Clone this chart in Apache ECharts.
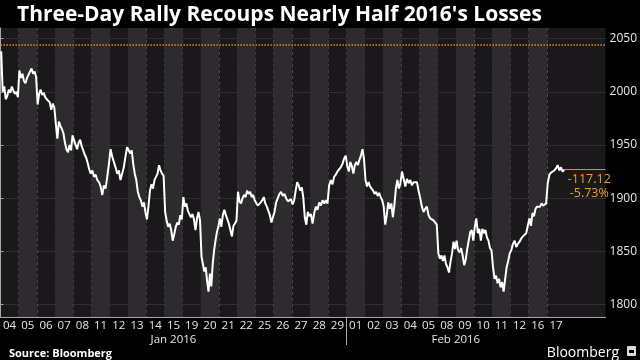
<!DOCTYPE html>
<html><head><meta charset="utf-8">
<script src="https://cdn.jsdelivr.net/npm/echarts@6/dist/echarts.min.js"></script>
<style>html,body{margin:0;padding:0;background:#000;}#c{width:640px;height:360px;}</style>
</head><body><div id="c"></div>
<script>
const chartTitle = "Three-Day Rally Recoups Nearly Half 2016's Losses";
const sourceText = "Source: Bloomberg";
const brandText = "Bloomberg";
const dayLabels = ['04','05','06','07','08','11','12','13','14','15','19','20','21','22','25','26','27','28','29',
                   '01','02','03','04','05','08','09','10','11','12','16','17'];
const monthLabels = ['Jan 2016', 'Feb 2016'];
const monthDayCounts = [19, 12];
const yTickValues = [1800, 1850, 1900, 1950, 2000, 2050];
const prevClose = 2043.94;

// intraday S&P 500 levels, one array per trading day
const d00 = [2038, 2000, 2005, 1993, 1996, 2002, 1999, 2005, 2001, 1998, 2000, 1995];
const d01 = [2020, 2013, 2017, 2010, 2008, 2013, 2016, 2019, 2022, 2017, 2019, 2014];
const d02 = [1988, 1998, 2002, 1997, 1999, 1995, 1993, 1992, 1990, 1983, 1989, 1985];
const d03 = [1970, 1956, 1972, 1968, 1965, 1961, 1952, 1946, 1943, 1950, 1945, 1959];
const d04 = [1958, 1950, 1946, 1952, 1955, 1949, 1945, 1941, 1938, 1933, 1927, 1923];
const d05 = [1926, 1920, 1922, 1917, 1915, 1911, 1903, 1912, 1909, 1920, 1932];
const d06 = [1946, 1939, 1934, 1929, 1923, 1926, 1917, 1923, 1929, 1939, 1948];
const d07 = [1949, 1942, 1945, 1932, 1923, 1917, 1906, 1901, 1898, 1892, 1896, 1887];
const d08 = [1880, 1892, 1907, 1913, 1909, 1917, 1920, 1923, 1931, 1926, 1923, 1921];
const d09 = [1887, 1879, 1873, 1876, 1870, 1860, 1866, 1873, 1877, 1875, 1884, 1880];
const d10 = [1901, 1892, 1895, 1888, 1885, 1882, 1885, 1880, 1870, 1881, 1887, 1879];
const d11 = [1845, 1838, 1831, 1835, 1822, 1812, 1829, 1817, 1838, 1851, 1860, 1868, 1873];
const d12 = [1881, 1873, 1884, 1889, 1884, 1885, 1876, 1870, 1864, 1874, 1876, 1879];
const d13 = [1906, 1897, 1895, 1900, 1903, 1901, 1907, 1904, 1906, 1901, 1903, 1898];
const d14 = [1898, 1893, 1892, 1896, 1898, 1901, 1895, 1892, 1893, 1884, 1877, 1882];
const d15 = [1887, 1896, 1900, 1904, 1906, 1902, 1904, 1900, 1897, 1896, 1899];
const d16 = [1894, 1898, 1907, 1915, 1912, 1907, 1910, 1901, 1882, 1875, 1887, 1883];
const d17 = [1885, 1876, 1886, 1892, 1889, 1896, 1893, 1898, 1895, 1898, 1895];
const d18 = [1912, 1917, 1913, 1920, 1922, 1925, 1927, 1929, 1932, 1937, 1940];
const d19 = [1930, 1925, 1934, 1930, 1923, 1931, 1934, 1931, 1936, 1940, 1946, 1937];
const d20 = [1917, 1911, 1915, 1911, 1909, 1907, 1904, 1906, 1902, 1905, 1901, 1898];
const d21 = [1892, 1875, 1884, 1896, 1890, 1895, 1882, 1893, 1909, 1917, 1909, 1914];
const d22 = [1925, 1918, 1911, 1918, 1914, 1917, 1912, 1915, 1914, 1915, 1907];
const d23 = [1900, 1892, 1887, 1890, 1892, 1884, 1881, 1882, 1879, 1878, 1875];
const d24 = [1848, 1843, 1846, 1841, 1846, 1838, 1835, 1830, 1840, 1848, 1859, 1852];
const d25 = [1860, 1851, 1849, 1853, 1846, 1837, 1842, 1852, 1860, 1868, 1870, 1860];
const d26 = [1873, 1881, 1867, 1871, 1860, 1871, 1867, 1870, 1863, 1860, 1853, 1851];
const d27 = [1835, 1824, 1827, 1820, 1824, 1816, 1821, 1812, 1824, 1835, 1841, 1848];
const d28 = [1851, 1857, 1860, 1854, 1857, 1859, 1862, 1864, 1865, 1867, 1868];
const d29 = [1881, 1874, 1886, 1883, 1890, 1892, 1893, 1892, 1895, 1893, 1892, 1895];
const d30 = [1914, 1922, 1924, 1923, 1926, 1928, 1931, 1926, 1929, 1925, 1926.82];
const dayValues = [d00,d01,d02,d03,d04,d05,d06,d07,d08,d09,d10,d11,d12,d13,d14,d15,d16,d17,d18,d19,d20,
                   d21,d22,d23,d24,d25,d26,d27,d28,d29,d30];

const X_MAX = 33.22;
const Y_MIN = 1788.2, Y_MAX = 2060;
const ORANGE = '#d9911f';

const lineData = [];
dayValues.forEach((arr, d) => {
  arr.forEach((v, j) => lineData.push([d + (j + 0.5) / arr.length, v]));
});
const last = lineData[lineData.length - 1];
const chg = (last[1] - prevClose).toFixed(2);
const pct = ((last[1] - prevClose) / prevClose * 100).toFixed(2) + '%';

const bandAreas = [];
for (let d = 1; d < dayLabels.length; d += 2) bandAreas.push([{xAxis: d}, {xAxis: d + 1}]);
const centers = dayLabels.map((_, i) => i + 0.5);
const boundaries = dayLabels.slice(1).map((_, i) => i + 1);
const monthCenters = [], monthSeps = [];
let acc = 0;
monthDayCounts.forEach((n, i) => { monthCenters.push(acc + n / 2); acc += n; if (i < monthDayCounts.length - 1) monthSeps.push(acc); });

const FONT = "'Open Sans', sans-serif";
const chart = echarts.init(document.getElementById('c'));
chart.setOption({
  backgroundColor: '#000',
  animation: false,
  title: [
    {text: chartTitle, left: 12, top: 0, textStyle: {color: '#fff', fontSize: 21, fontWeight: 'bold', fontFamily: FONT}},
    {text: sourceText, left: 4, top: 343, textStyle: {color: '#fff', fontSize: 11, fontWeight: 'bold', fontFamily: FONT}},
    {text: brandText, right: 16, top: 341, textStyle: {color: '#fff', fontSize: 14, fontWeight: 'normal', fontFamily: FONT}}
  ],
  graphic: [
    {type: 'rect', right: 4, top: 346, shape: {width: 9, height: 10, r: 1}, style: {fill: '#ddd'}},
    {type: 'rect', right: 6, top: 350, shape: {width: 5, height: 3}, style: {fill: '#000'}}
  ],
  grid: {left: 0, right: 32, top: 28, bottom: 43, show: true, backgroundColor: '#1a181b', borderWidth: 0},
  xAxis: [
    {
      type: 'value', min: 0, max: X_MAX, position: 'bottom',
      axisLine: {show: true, onZero: false, lineStyle: {color: '#a8a8a8', width: 1}},
      axisTick: {show: false, customValues: boundaries},
      splitLine: {show: true, lineStyle: {color: '#4a474b', type: [3, 3], width: 1}},
      axisLabel: {customValues: centers, color: '#e6e6e6', fontSize: 11.5, fontFamily: FONT, margin: 3,
        formatter: v => dayLabels[Math.round(v - 0.5)]}
    },
    {
      type: 'value', min: 0, max: X_MAX, position: 'bottom',
      axisLine: {show: false, onZero: false},
      axisTick: {show: true, customValues: monthSeps, length: 28, lineStyle: {color: '#a8a8a8'}},
      splitLine: {show: false},
      axisLabel: {customValues: monthCenters, color: '#e6e6e6', fontSize: 11.5, fontFamily: FONT, margin: 17,
        formatter: v => monthLabels[monthCenters.indexOf(v)]}
    }
  ],
  yAxis: {
    type: 'value', position: 'right', min: Y_MIN, max: Y_MAX,
    axisLine: {show: true, lineStyle: {color: '#a8a8a8'}},
    axisTick: {show: true, customValues: yTickValues, length: 3, lineStyle: {color: '#a8a8a8'}},
    splitLine: {show: true, lineStyle: {color: '#4a474b', type: 'dotted', width: 1}},
    axisLabel: {customValues: yTickValues, color: '#e6e6e6', fontSize: 12, fontFamily: FONT, margin: 4,
      formatter: v => String(v)}
  },
  series: [
    {
      type: 'line', data: [], z: 1, silent: true,
      markArea: {silent: true, itemStyle: {color: '#2d2b2e'}, data: bandAreas}
    },
    {
      type: 'line', data: lineData, z: 5, symbol: 'none', silent: true,
      lineStyle: {color: '#ffffff', width: 2},
      endLabel: {show: true, formatter: () => '{a|' + chg + '}\n{b|' + pct + '}',
        align: 'center', verticalAlign: 'top', offset: [17, 3],
        rich: {a: {color: '#eca032', fontSize: 12.5, fontFamily: FONT, lineHeight: 14, align: 'center'},
               b: {color: '#eca032', fontSize: 12.5, fontFamily: FONT, lineHeight: 14, align: 'center'}}}
    },
    {
      type: 'line', data: [], z: 4, silent: true,
      markLine: {silent: true, symbol: 'none', animation: false,
        label: {show: false},
        lineStyle: {color: ORANGE, type: 'dotted', width: 1.5},
        data: [[{coord: [0, prevClose]}, {coord: [X_MAX, prevClose]}]]}
    },
    {
      type: 'line', data: [], z: 4, silent: true,
      markLine: {silent: true, symbol: 'none', animation: false,
        label: {show: false},
        lineStyle: {color: ORANGE, type: 'solid', width: 1},
        data: [[{coord: [last[0], last[1]]}, {coord: [X_MAX, last[1]]}]]}
    }
  ]
});
</script></body></html>
